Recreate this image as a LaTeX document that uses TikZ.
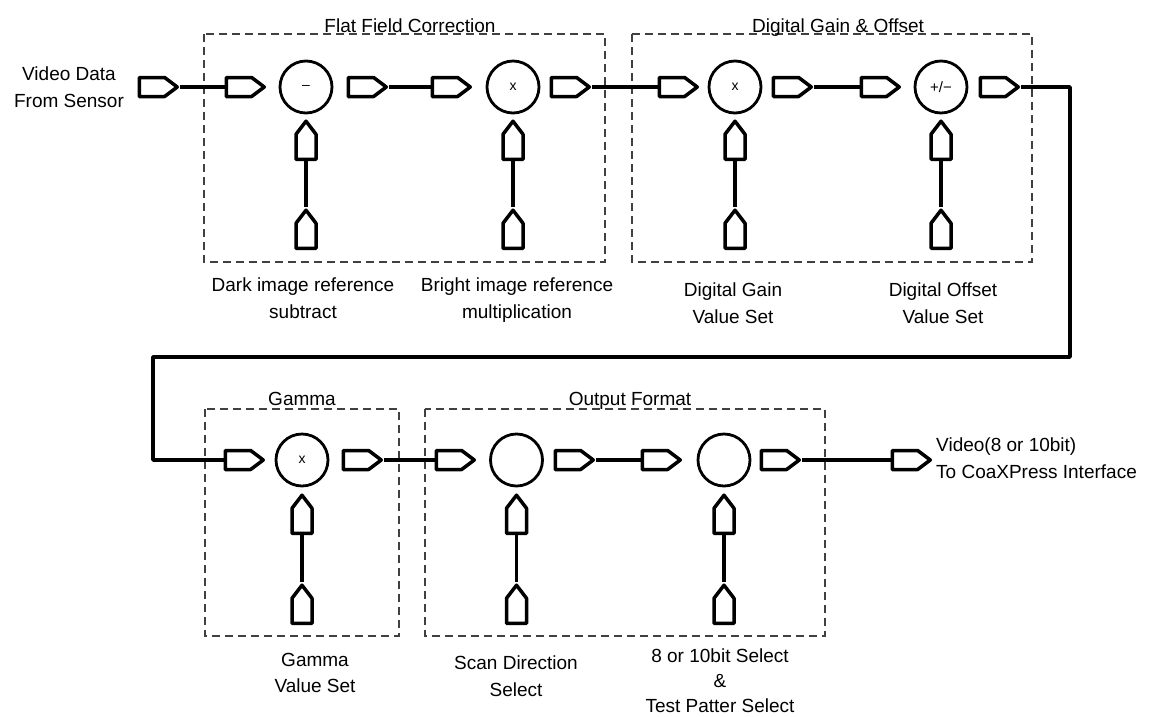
\documentclass[tikz,border=0pt]{standalone}
\usepackage{fontspec}
\setmainfont{Liberation Sans}
\usetikzlibrary{shapes.symbols}
\begin{document}
\begin{tikzpicture}[x=1pt,y=-1pt,
  txt/.style={font=\fontsize{19}{26.5}\selectfont, align=center, inner sep=0pt},
  hport/.style={signal, signal to=east, signal pointer angle=74, draw, anchor=west,
    line width=3.5pt, line join=round, minimum width=38pt, minimum height=19pt, inner sep=0pt},
  vport/.style={signal, signal to=north, signal pointer angle=75, draw, anchor=south,
    line width=3.5pt, line join=round, minimum width=20pt, minimum height=25pt, inner sep=0pt},
  op/.style={circle, draw, line width=2.8pt, minimum size=52pt, inner sep=0pt,
    font=\fontsize{14}{14}\selectfont},
  wire/.style={line width=3.5pt, line join=round},
  group/.style={draw=black!75, dash pattern=on 8pt off 5pt, line width=1.4pt},
]
\useasboundingbox (0,0) rectangle (1157,716);

% ---- processing groups ----
\draw[group] (204,34) rectangle (605,262);
\draw[group] (632,34) rectangle (1032,262);
\draw[group] (205,409) rectangle (399,636);
\draw[group] (425,409) rectangle (825,636);

\node[txt, anchor=base] (tffc) at (410,32) {Flat Field Correction};
\node[txt, anchor=base] (tdgo) at (838,32) {Digital Gain \& Offset};
\node[txt, anchor=base] (tgam) at (302,405) {Gamma};
\node[txt, anchor=base] (tout) at (630,405) {Output Format};

% ---- first row: flat field, gain, offset ----
\node[hport] (in0) at (137.5,87) {};
\node[hport] (p1) at (224.5,87) {};
\node[op] (c1) at (306,87) {–};
\node[hport] (p2) at (346.5,87) {};
\node[hport] (p3) at (430.5,87) {};
\node[op] (c2) at (513,87) {x};
\node[hport] (p4) at (549.5,87) {};
\node[hport] (p5) at (657.5,87) {};
\node[op] (c3) at (735,87) {x};
\node[hport] (p6) at (771.5,87) {};
\node[hport] (p7) at (859.5,87) {};
\node[op, font=\fontsize{15}{15}\selectfont] (c4) at (941,87) {+/−};
\node[hport] (p8) at (978.5,87) {};

\foreach \n/\x in {1/306, 2/513, 3/735, 4/941} {
  \node[vport] (u\n) at (\x,161) {};
  \node[vport] (d\n) at (\x,250) {};
  \draw[wire] (u\n.south) -- (d\n.north);
}

\draw[wire] (in0.east) -- (p1.west);
\draw[wire] (p2.east) -- (p3.west);
\draw[wire] (p4.east) -- (p5.west);
\draw[wire] (p6.east) -- (p7.west);

% ---- second row: gamma, output format ----
\node[hport] (g1) at (223.5,460) {};
\node[op] (c5) at (302,460) {x};
\node[hport] (g2) at (341.5,460) {};
\node[hport] (o1) at (434.5,460) {};
\node[op] (c6) at (516.5,460) {};
\node[hport] (o2) at (553.5,460) {};
\node[hport] (o3) at (640.5,460) {};
\node[op] (c7) at (724,460) {};
\node[hport] (o4) at (759.5,460) {};
\node[hport] (out) at (890.5,460) {};

\foreach \n/\x in {5/302, 6/516.5, 7/724} {
  \node[vport] (u\n) at (\x,535) {};
  \node[vport] (d\n) at (\x,625) {};
  \draw[wire] (u\n.south) -- (d\n.north);
}

\draw[wire] (g2.east) -- (o1.west);
\draw[wire] (o2.east) -- (o3.west);
\draw[wire] (o4.east) -- (out.west);

% ---- return path from first row to second row ----
\coordinate (loopR) at (1070,357);
\coordinate (loopL) at (153,357);
\draw[wire] (p8.east) -| (loopR) -- (loopL) |- (g1.west);

% ---- labels ----
\node[txt, anchor=north] (lin) at (69,67) {Video Data\\From Sensor};
\node[txt, anchor=north west, align=left] (lout) at (936,438) {Video(8 or 10bit)\\To CoaXPress Interface};
\node[txt, anchor=north] (l1) at (303,278) {Dark image reference\\subtract};
\node[txt, anchor=north] (l2) at (517,278) {Bright image reference\\multiplication};
\node[txt, anchor=north] (l3) at (733,283) {Digital Gain\\Value Set};
\node[txt, anchor=north] (l4) at (943,283) {Digital Offset\\Value Set};
\node[txt, anchor=north] (l5) at (315,653) {Gamma\\Value Set};
\node[txt, anchor=north] (l6) at (516,656) {Scan Direction\\Select};
\node[txt, anchor=north, font=\fontsize{19}{25}\selectfont] (l7) at (720,649) {8 or 10bit Select\\\&\\Test Patter Select};
\end{tikzpicture}
\end{document}
